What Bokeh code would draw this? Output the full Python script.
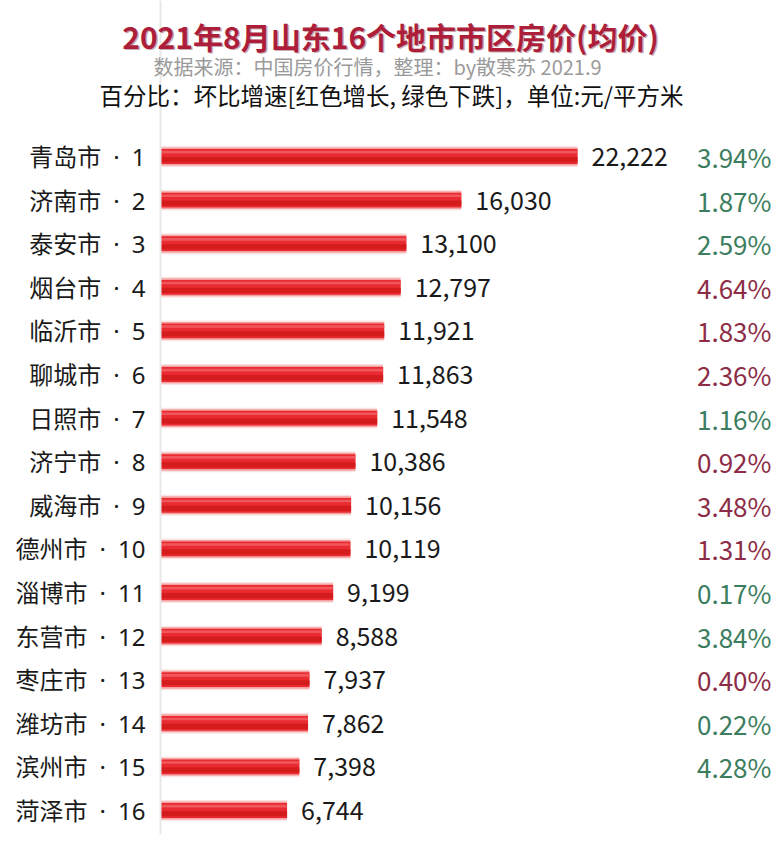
from bokeh.plotting import figure
from bokeh.models import ColumnDataSource, Range1d, Label, Span
from bokeh.transform import dodge
from bokeh.core.properties import value
from bokeh.embed import file_html
from bokeh.resources import INLINE

cities = ["青岛市", "济南市", "泰安市", "烟台市", "临沂市", "聊城市", "日照市", "济宁市",
          "威海市", "德州市", "淄博市", "东营市", "枣庄市", "潍坊市", "滨州市", "菏泽市"]
prices = [22222, 16030, 13100, 12797, 11921, 11863, 11548, 10386,
          10156, 10119, 9199, 8588, 7937, 7862, 7398, 6744]
changes = ["3.94%", "1.87%", "2.59%", "4.64%", "1.83%", "2.36%", "1.16%", "0.92%",
           "3.48%", "1.31%", "0.17%", "3.84%", "0.40%", "0.22%", "4.28%", ""]
change_up = [False, False, False, True, True, True, False, True,
             True, True, False, False, True, False, False, False]

CJK = "Noto Sans CJK SC"
MIX = "'Noto Sans', 'Noto Sans CJK SC'"
W, H = 774, 834

ranks = list(range(1, len(cities) + 1))
src = ColumnDataSource(dict(
    y=ranks,
    price=prices,
    label=[f"{c}\u2002·\u2002{r}" for c, r in zip(cities, ranks)],
    vtxt=[f"{v:,}" for v in prices],
    ctxt=changes,
    ccol=["#8c2c46" if u else "#3b7d5e" for u in change_up],
))

# pixel calibration: value 0 at x=160, 22222 at x=577
scale = 417 / 22222.0
x0 = -160 / scale
x1 = (W - 160) / scale
row = 43.6
y_top = 1 - 156 / row
y_bot = 1 + (H - 156) / row

p = figure(width=W, height=H, output_backend="svg", toolbar_location=None,
           x_range=Range1d(x0, x1), y_range=Range1d(y_bot, y_top),
           min_border=0, min_border_left=0, min_border_right=0,
           min_border_top=0, min_border_bottom=0)
p.axis.visible = False
p.grid.visible = False
p.outline_line_color = None
p.background_fill_color = "white"
p.border_fill_color = "white"

# faint base line
p.add_layout(Span(location=0, dimension="height", line_color="#e8e8e8", line_width=2))

# layered bars to imitate the glossy red gradient
p.hbar(y="y", left=0, right="price", height=0.48, source=src,
       fill_color="#f8c0c0", fill_alpha=0.45, line_color=None)
p.hbar(y="y", left=0, right="price", height=0.41, source=src,
       fill_color="#f28a8a", fill_alpha=0.75, line_color=None)
p.hbar(y="y", left=0, right="price", height=0.34, source=src,
       fill_color="#e92a30", line_color=None)
p.hbar(y=dodge("y", 0.07), left=0, right="price", height=0.12, source=src,
       fill_color="#d41c1c", line_color=None)
p.hbar(y=dodge("y", -0.1), left=0, right="price", height=0.06, source=src,
       fill_color="#f0575c", line_color=None)

# city labels
p.text(x=0, y="y", text="label", source=src, x_offset=-15,
       text_align="right", text_baseline="middle",
       text_font=value(MIX), text_font_size="24px", text_color="#1a1a1a")
# value labels
p.text(x="price", y="y", text="vtxt", source=src, x_offset=14,
       text_align="left", text_baseline="middle",
       text_font=value(CJK), text_font_size="25px", text_color="#1a1a1a")
# percentage labels
p.text(x=x1, y="y", text="ctxt", source=src, x_offset=-3,
       text_align="right", text_baseline="middle",
       text_font=value(CJK), text_font_size="26px", text_color="ccol")

# titles
title = "2021年8月山东16个地市市区房价(均价)"
p.add_layout(Label(x=390 + 1.5, y=H - 35 - 1.5, x_units="screen", y_units="screen",
                   text=title, text_align="center", text_baseline="middle",
                   text_font=CJK, text_font_size="30px", text_font_style="bold",
                   text_color="#5a1020", text_alpha=0.35))
p.add_layout(Label(x=390, y=H - 35, x_units="screen", y_units="screen",
                   text=title, text_align="center", text_baseline="middle",
                   text_font=CJK, text_font_size="30px", text_font_style="bold",
                   text_color="#ac1e3a"))
p.add_layout(Label(x=377, y=H - 66, x_units="screen", y_units="screen",
                   text="数据来源：中国房价行情，整理：by散寒苏 2021.9",
                   text_align="center", text_baseline="middle",
                   text_font=CJK, text_font_size="20px", text_color="#9a9a9a"))
p.add_layout(Label(x=391, y=H - 94, x_units="screen", y_units="screen",
                   text="百分比：坏比增速[红色增长, 绿色下跌]，单位:元/平方米",
                   text_align="center", text_baseline="middle",
                   text_font=CJK, text_font_size="23.5px", text_color="#111111"))

open("out.html", "w").write(file_html(p, INLINE))
